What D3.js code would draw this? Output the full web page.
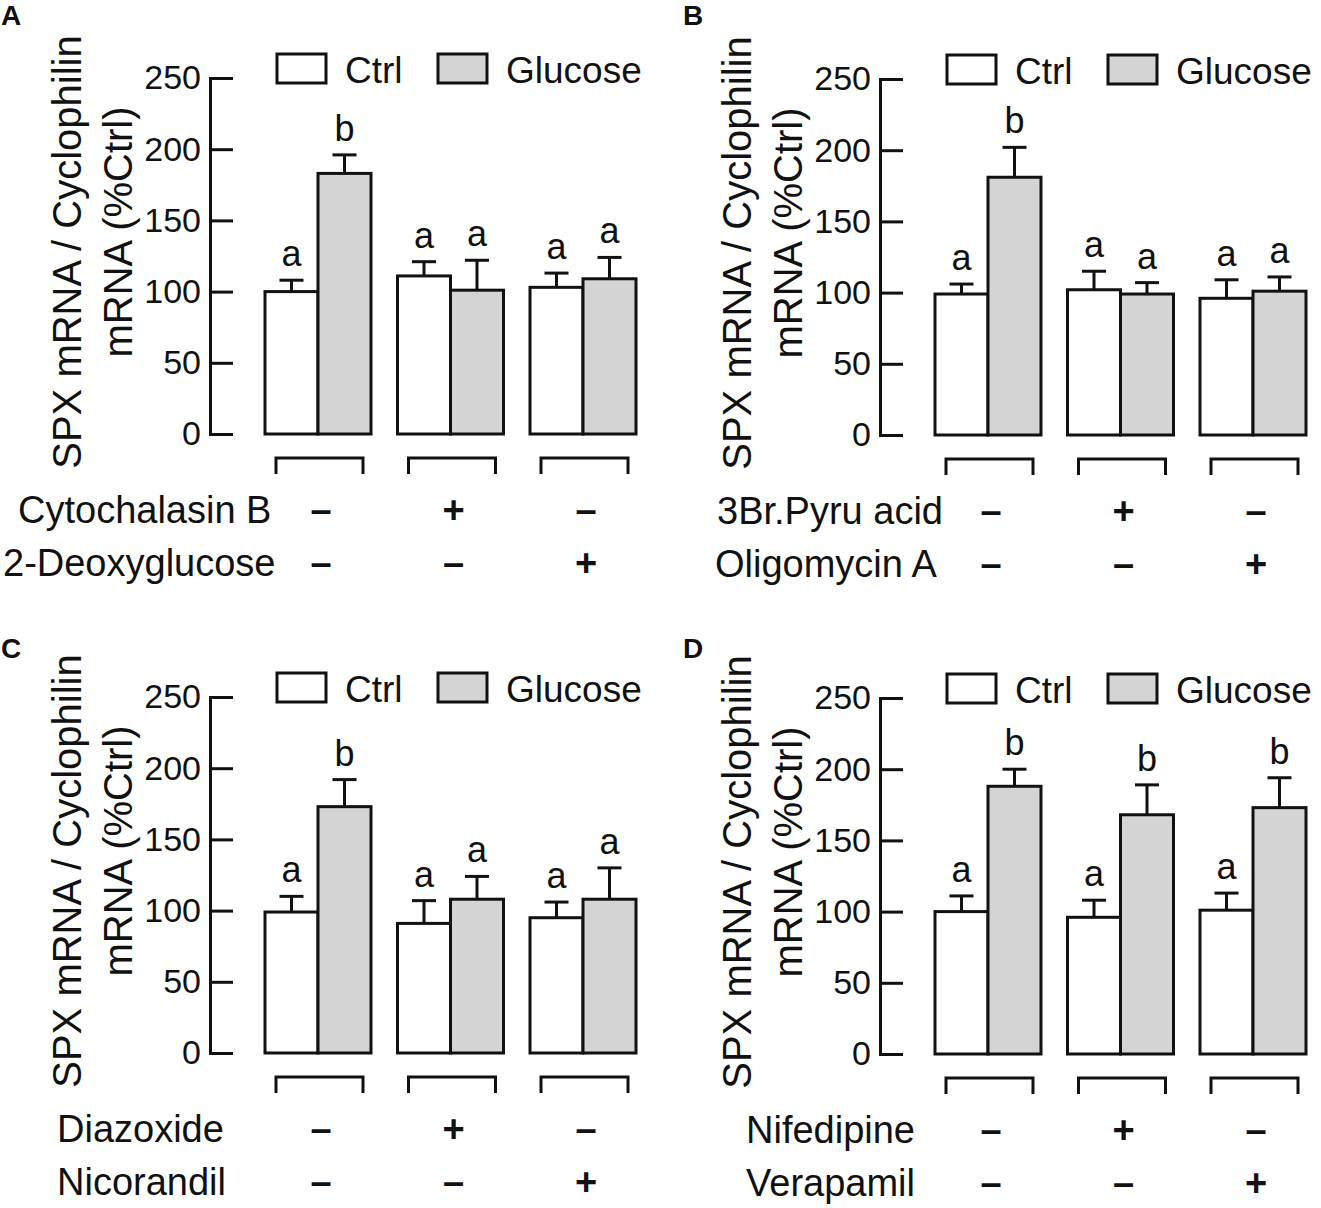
<!DOCTYPE html>
<html>
<head>
	<meta charset="utf-8">
	<title>SPX mRNA / Cyclophilin</title>
	<script src="https://cdn.jsdelivr.net/npm/d3@7"></script>
	<style type="text/css">
		html, body {
			margin: 0;
			padding: 0;
			background: white;
		}
		svg text {
			font-family: 'Liberation Sans', Arial, sans-serif;
			fill: #111;
		}
	</style>
</head>
<body>

<div id="vis"></div>

<script type="text/javascript">

// ---- data ----
var groups = ["g1", "g2", "g3"];
var series = ["Ctrl", "Glucose"];
var yTicks = [0, 50, 100, 150, 200, 250];

// panel A
var ctrlA = [100, 111, 103];
var ctrlErrA = [8, 10, 10];
var glucA = [183, 101, 109];
var glucErrA = [13, 21, 15];
var ctrlLetA = ["a", "a", "a"];
var glucLetA = ["b", "a", "a"];
var rowsA = ["Cytochalasin B", "2-Deoxyglucose"];

// panel B
var ctrlB = [99, 102, 96];
var ctrlErrB = [7, 13, 13];
var glucB = [181, 99, 101];
var glucErrB = [21, 8, 10];
var ctrlLetB = ["a", "a", "a"];
var glucLetB = ["b", "a", "a"];
var rowsB = ["3Br.Pyru acid", "Oligomycin A"];

// panel C
var ctrlC = [99, 91, 95];
var ctrlErrC = [11, 16, 11];
var glucC = [173, 108, 108];
var glucErrC = [19, 16, 22];
var ctrlLetC = ["a", "a", "a"];
var glucLetC = ["b", "a", "a"];
var rowsC = ["Diazoxide", "Nicorandil"];

// panel D
var ctrlD = [100, 96, 101];
var ctrlErrD = [11, 12, 12];
var glucD = [188, 168, 173];
var glucErrD = [12, 21, 21];
var ctrlLetD = ["a", "a", "a"];
var glucLetD = ["b", "b", "b"];
var rowsD = ["Nifedipine", "Verapamil"];

// +/- treatment table (same layout in every panel)
var signs = [["–", "+", "–"], ["–", "–", "+"]];

var yLabel1 = "SPX mRNA / Cyclophilin";
var yLabel2 = "mRNA (%Ctrl)";

// ---- layout ----
var panels = [
	{id: "A", dx: 0, dy: 0, lx: 1, ly: 25, rowX: [18, 3], ctrl: ctrlA, ctrlErr: ctrlErrA, gluc: glucA, glucErr: glucErrA, cl: ctrlLetA, gl: glucLetA, rows: rowsA},
	{id: "B", dx: 670, dy: 1, lx: 683, ly: 25, rowX: [47, 45], ctrl: ctrlB, ctrlErr: ctrlErrB, gluc: glucB, glucErr: glucErrB, cl: ctrlLetB, gl: glucLetB, rows: rowsB},
	{id: "C", dx: 0, dy: 619, lx: 1, ly: 658, rowX: [57, 57], ctrl: ctrlC, ctrlErr: ctrlErrC, gluc: glucC, glucErr: glucErrC, cl: ctrlLetC, gl: glucLetC, rows: rowsC},
	{id: "D", dx: 670, dy: 620, lx: 683, ly: 658, rowX: [76, 76], ctrl: ctrlD, ctrlErr: ctrlErrD, gluc: glucD, glucErr: glucErrD, cl: ctrlLetD, gl: glucLetD, rows: rowsD}
];

var width = 1321;
var height = 1208;
var fills = {Ctrl: "#ffffff", Glucose: "#d4d4d4"};
var lw = 3;

var svg = d3.select("#vis").append("svg")
	.attr("width", width)
	.attr("height", height)
	.style("display", "block");

svg.append("rect")
	.attr("width", width)
	.attr("height", height)
	.attr("fill", "white");

var x = d3.scaleBand()
	.domain(groups)
	.range([265, 636])
	.paddingInner(0.2)
	.paddingOuter(0);

var xs = d3.scaleBand()
	.domain(series)
	.range([0, x.bandwidth()]);

var y = d3.scaleLinear()
	.domain([0, 250])
	.range([434, 78]);

panels.forEach(function(p) {

	// panel letter
	svg.append("text")
		.attr("x", p.lx)
		.attr("y", p.ly)
		.style("font-size", "28px")
		.style("font-weight", "bold")
		.text(p.id);

	var g = svg.append("g")
		.attr("transform", "translate(" + p.dx + "," + p.dy + ")");

	// y axis title, two lines
	g.append("text")
		.attr("transform", "translate(67,252) rotate(-90)")
		.attr("text-anchor", "middle")
		.attr("dominant-baseline", "central")
		.style("font-size", "40px")
		.text(yLabel1);

	g.append("text")
		.attr("transform", "translate(118,232) rotate(-90)")
		.attr("text-anchor", "middle")
		.attr("dominant-baseline", "central")
		.style("font-size", "40px")
		.text(yLabel2);

	// y axis
	var axis = g.append("g")
		.attr("transform", "translate(210,0)")
		.call(d3.axisLeft(y)
			.tickValues(yTicks)
			.tickSizeInner(-23)
			.tickSizeOuter(0)
			.tickPadding(9));

	axis.select(".domain")
		.attr("stroke", "#111")
		.attr("stroke-width", lw)
		.attr("stroke-linecap", "square");
	axis.selectAll(".tick line")
		.attr("stroke", "#111")
		.attr("stroke-width", lw);
	axis.selectAll(".tick text")
		.style("font-size", "34px")
		.style("font-family", "'Liberation Sans', Arial, sans-serif")
		.attr("fill", "#111");

	// bars
	var data = [];
	groups.forEach(function(gr, i) {
		data.push({group: gr, s: "Ctrl", v: p.ctrl[i], e: p.ctrlErr[i], l: p.cl[i]});
		data.push({group: gr, s: "Glucose", v: p.gluc[i], e: p.glucErr[i], l: p.gl[i]});
	});

	// error bars (drawn behind bars so the stem starts at the bar top)
	var err = g.append("g").selectAll("g")
		.data(data)
		.enter().append("g");

	err.append("line")
		.attr("x1", function(d) { return x(d.group) + xs(d.s) + xs.bandwidth() / 2; })
		.attr("x2", function(d) { return x(d.group) + xs(d.s) + xs.bandwidth() / 2; })
		.attr("y1", function(d) { return y(d.v); })
		.attr("y2", function(d) { return y(d.v + d.e); })
		.attr("stroke", "#111")
		.attr("stroke-width", lw);

	err.append("line")
		.attr("x1", function(d) { return x(d.group) + xs(d.s) + xs.bandwidth() / 2 - 12; })
		.attr("x2", function(d) { return x(d.group) + xs(d.s) + xs.bandwidth() / 2 + 12; })
		.attr("y1", function(d) { return y(d.v + d.e); })
		.attr("y2", function(d) { return y(d.v + d.e); })
		.attr("stroke", "#111")
		.attr("stroke-width", lw);

	g.append("g").selectAll("rect")
		.data(data)
		.enter().append("rect")
		.attr("x", function(d) { return x(d.group) + xs(d.s); })
		.attr("y", function(d) { return y(d.v); })
		.attr("width", xs.bandwidth())
		.attr("height", function(d) { return y(0) - y(d.v); })
		.attr("fill", function(d) { return fills[d.s]; })
		.attr("stroke", "#111")
		.attr("stroke-width", lw);

	// significance letters
	g.append("g").selectAll("text")
		.data(data)
		.enter().append("text")
		.attr("x", function(d) { return x(d.group) + xs(d.s) + xs.bandwidth() / 2; })
		.attr("y", function(d) { return y(d.v + d.e) - 14; })
		.attr("text-anchor", "middle")
		.style("font-size", "36px")
		.text(function(d) { return d.l; });

	// brackets under each group
	g.append("g").selectAll("path")
		.data(groups)
		.enter().append("path")
		.attr("d", function(d) {
			var l = x(d) + 11, r = x(d) + 98;
			return "M" + l + ",474V458H" + r + "V474";
		})
		.attr("fill", "none")
		.attr("stroke", "#111")
		.attr("stroke-width", lw);

	// treatment rows
	var rowY = [523, 576];
	p.rows.forEach(function(name, j) {
		g.append("text")
			.attr("x", p.rowX[j])
			.attr("y", rowY[j])
			.style("font-size", "38px")
			.text(name);

		g.append("g").selectAll("text")
			.data(groups)
			.enter().append("text")
			.attr("x", function(d) { return x(d) + x.bandwidth() / 2 + 3; })
			.attr("y", rowY[j])
			.attr("text-anchor", "middle")
			.style("font-size", "38px")
			.style("font-weight", "bold")
			.text(function(d, i) { return signs[j][i]; });
	});

	// legend
	var leg = g.append("g").selectAll("g")
		.data(series)
		.enter().append("g")
		.attr("transform", function(d, i) { return "translate(" + (277 + i * 161) + ",54)"; });

	leg.append("rect")
		.attr("width", 49)
		.attr("height", 29)
		.attr("fill", function(d) { return fills[d]; })
		.attr("stroke", "#111")
		.attr("stroke-width", lw);

	leg.append("text")
		.attr("x", 68)
		.attr("y", 29)
		.style("font-size", "37px")
		.text(function(d) { return d; });
});

</script>

</body>
</html>
